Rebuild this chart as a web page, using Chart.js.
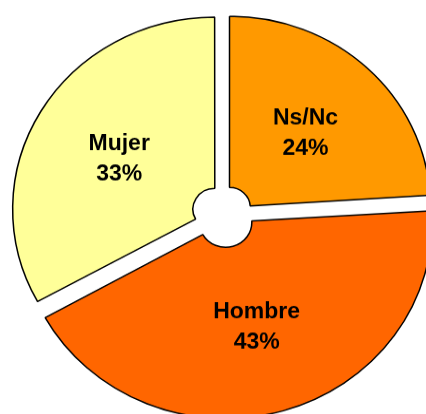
<!DOCTYPE html>
<html>
<head>
<meta charset="utf-8">
<script src="https://cdn.jsdelivr.net/npm/chart.js@4/dist/chart.umd.min.js"></script>
<style>
  html, body { margin: 0; padding: 0; background: #fff; overflow: hidden; width: 426px; height: 414px; }
  #wrap { width: 426px; height: 436px; transform: scaleY(0.95); transform-origin: 0 0; }
  canvas { display: block; }
</style>
</head>
<body>
<div id="wrap"><canvas id="c" width="426" height="436"></canvas></div>
<script>
const categories = ["Ns/Nc", "Hombre", "Mujer"];
const percentages = [24, 43, 33];
const sliceColors = ["#FF9900", "#FF6600", "#FFFF99"];

const labelPlugin = {
  id: 'sliceLabels',
  afterDatasetsDraw(chart) {
    const ctx = chart.ctx;
    const meta = chart.getDatasetMeta(0);
    ctx.save();
    ctx.fillStyle = '#000';
    ctx.font = 'bold 23px "Liberation Sans", Arial, sans-serif';
    ctx.textAlign = 'center';
    ctx.textBaseline = 'middle';
    meta.data.forEach((arc, i) => {
      const p = arc.getProps(['x', 'y', 'startAngle', 'endAngle', 'outerRadius'], true);
      const mid = (p.startAngle + p.endAngle) / 2;
      const r = p.outerRadius * 0.6;
      const cx = p.x + Math.cos(mid) * r;
      const cy = p.y + Math.sin(mid) * r + 4;
      ctx.fillText(categories[i], cx, cy - 16);
      ctx.fillText(percentages[i] + '%', cx, cy + 16);
    });
    ctx.restore();
  }
};

new Chart(document.getElementById('c'), {
  type: 'doughnut',
  data: {
    labels: categories,
    datasets: [{
      data: percentages,
      backgroundColor: sliceColors,
      borderColor: '#000',
      borderWidth: 1.5,
      offset: 38,
      hoverOffset: 0
    }]
  },
  options: {
    responsive: false,
    animation: false,
    radius: 201,
    cutout: '10.3%',
    layout: { padding: { left: 20, top: 14, right: 0, bottom: 0 } },
    plugins: {
      legend: { display: false },
      tooltip: { enabled: false }
    },
    events: []
  },
  plugins: [labelPlugin]
});
</script>
</body>
</html>
